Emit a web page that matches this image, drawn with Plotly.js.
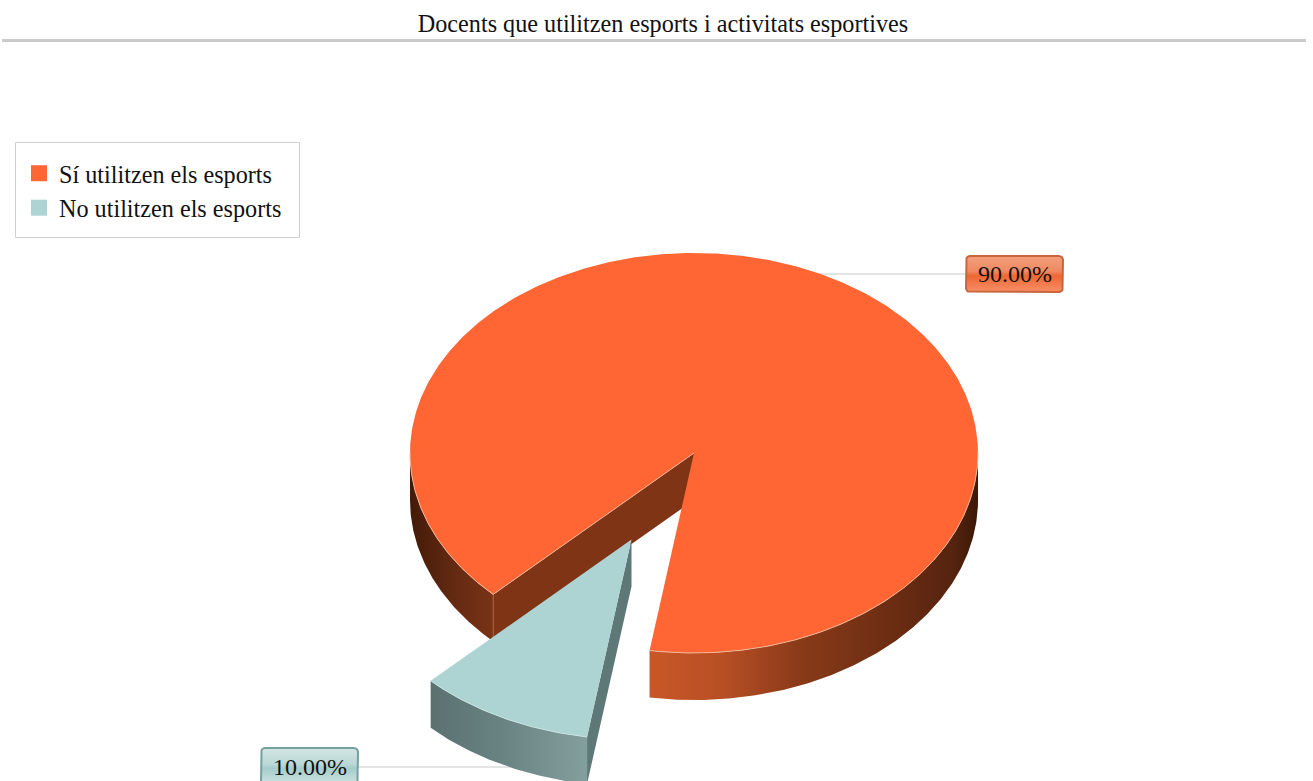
<!DOCTYPE html>
<html>
<head>
<meta charset="utf-8">
<script src="https://cdn.plot.ly/plotly-3.0.1.min.js"></script>
<style>html,body{margin:0;padding:0;background:#fff;overflow:hidden}</style>
</head>
<body>
<div id="chart" style="width:1313px;height:781px"></div>
<script>
// Chart content
const chartTitle = 'Docents que utilitzen esports i activitats esportives';
const categories = ['Sí utilitzen els esports', 'No utilitzen els esports'];
const values = [90, 10];
const valueLabels = ['90.00%', '10.00%'];
const faceColors = ['#ff6633', '#add4d2'];

// Projection of the tilted pie onto the pixel-sized axes
const W = 1313, H = 781;
const centre = {x: 694, y: 453};
const rx = 284, ry = 200, depth = 47;
const firstAngle = 135;          // where the large slice begins, clockwise from east
const explode = 0.485;           // pull-out of the small slice, as a share of the radius
const total = values.reduce((a, b) => a + b, 0);
const sweep = values.map(v => v / total * 360);
const endBig = firstAngle + sweep[0];          // ends past a full turn
const smallFrom = endBig - 360, smallTo = smallFrom + sweep[1];
const smallMid = (smallFrom + smallTo) / 2 * Math.PI / 180;
const smallCentre = {
  x: centre.x + explode * rx * Math.cos(smallMid),
  y: centre.y + explode * ry * Math.sin(smallMid)
};

function arc(c, a, b, dy) {
  const xs = [], ys = [], n = Math.max(2, Math.ceil(Math.abs(b - a) * 2));
  for (let i = 0; i <= n; i++) {
    const t = (a + (b - a) * i / n) * Math.PI / 180;
    xs.push(c.x + rx * Math.cos(t));
    ys.push(c.y + ry * Math.sin(t) + (dy || 0));
  }
  return {xs, ys};
}
function poly(xs, ys, extra) {
  return Object.assign({
    type: 'scatter', mode: 'lines', x: xs, y: ys, fill: 'toself',
    line: {width: 0}, hoverinfo: 'skip', showlegend: false
  }, extra);
}
function stroke(xs, ys, color, width) {
  return {type: 'scatter', mode: 'lines', x: xs, y: ys,
    line: {width: width || 1, color}, hoverinfo: 'skip', showlegend: false};
}
function rimWall(c, a, b, extra) {
  const top = arc(c, a, b, 0), low = arc(c, b, a, depth);
  return poly(top.xs.concat(low.xs), top.ys.concat(low.ys), extra);
}
function radialWall(c, angle, fill) {
  const p = arc(c, angle, angle, 0);
  return poly([c.x, p.xs[0], p.xs[0], c.x], [c.y, p.ys[0], p.ys[0] + depth, c.y + depth],
    {fillcolor: fill});
}
function face(c, a, b, fill) {
  const r = arc(c, a, b, 0);
  return poly([c.x].concat(r.xs, [c.x]), [c.y].concat(r.ys, [c.y]), {fillcolor: fill});
}
function roundedBox(x0, y0, x1, y1, r, stops, edge) {
  const xs = [], ys = [];
  [[x1 - r, y0 + r, -90], [x1 - r, y1 - r, 0], [x0 + r, y1 - r, 90], [x0 + r, y0 + r, 180]].forEach(k => {
    for (let d = 0; d <= 90; d += 15) {
      xs.push(k[0] + r * Math.cos((k[2] + d) * Math.PI / 180));
      ys.push(k[1] + r * Math.sin((k[2] + d) * Math.PI / 180));
    }
  });
  xs.push(xs[0]); ys.push(ys[0]);
  return poly(xs, ys, {
    line: {width: 2, color: edge},
    fillgradient: {type: 'vertical', start: y0, stop: y1, colorscale: stops}
  });
}
function legendKey(i) {
  return {type: 'scatter', mode: 'markers', x: [null], y: [null], name: categories[i],
    marker: {symbol: 'square', size: 16, color: faceColors[i]}, hoverinfo: 'skip', showlegend: true};
}

// Highlights along the edges of the top faces that border a darker wall
const bigRight = arc(centre, 0, smallFrom, 0);
const bigLeft = arc(centre, firstAngle, 180, 0);
const corner = {x: bigLeft.xs[0], y: bigLeft.ys[0]};
const smallRim = arc(smallCentre, smallFrom, smallTo, 0);

const traces = [
  legendKey(0), legendKey(1),
  stroke([820, 966], [274, 274], '#c8c8c8'),
  stroke([358, 510], [767, 767], '#c8c8c8'),
  // large slice: cut wall, then the two visible parts of the rim, then the top
  radialWall(centre, firstAngle, '#7f3416'),
  rimWall(centre, firstAngle, 180, {fillgradient: {type: 'horizontal', start: 410, stop: 493,
    colorscale: [[0, '#431a08'], [0.5, '#622911'], [1, '#7a3316']]}}),
  rimWall(centre, 0, smallFrom, {fillgradient: {type: 'horizontal', start: 650, stop: 978,
    colorscale: [[0, '#c85727'], [0.22, '#b84f24'], [0.45, '#8a3b19'], [0.75, '#6a2c12'], [0.92, '#562410'], [1, '#3c1806']]}}),
  stroke([corner.x, corner.x], [corner.y, corner.y + depth], '#a5603f'),
  face(centre, firstAngle, endBig, faceColors[0]),
  stroke(bigRight.xs, bigRight.ys, '#f6b596'),
  stroke(bigLeft.xs, bigLeft.ys, '#f6b596'),
  stroke([corner.x, centre.x], [corner.y, centre.y], '#f6b596'),
  // small slice, pulled out of the gap
  radialWall(smallCentre, smallFrom, '#5e7877'),
  rimWall(smallCentre, smallFrom, smallTo, {fillgradient: {type: 'horizontal', start: 430, stop: 586,
    colorscale: [[0, '#5a7170'], [0.5, '#6a8584'], [1, '#829e9d']]}}),
  face(smallCentre, smallFrom, smallTo, faceColors[1]),
  stroke(smallRim.xs, smallRim.ys, '#c9e2e0'),
  // value tags
  roundedBox(966, 256, 1063, 292, 4, [[0, '#f29f7d'], [0.42, '#f08a62'], [0.55, '#ee6734'], [1, '#f88f66']], '#c9653d'),
  roundedBox(261, 748, 358, 785, 4, [[0, '#d3e6e4'], [0.42, '#bcd9d7'], [0.55, '#a5cccb'], [1, '#cfe5e3']], '#76a09e')
];

const layout = {
  width: W, height: H,
  margin: {l: 0, r: 0, t: 0, b: 0},
  paper_bgcolor: '#fff', plot_bgcolor: '#fff',
  font: {family: '"Liberation Serif", serif', color: '#111'},
  title: {text: chartTitle, font: {size: 24.2, color: '#111'}, x: 663 / W, xanchor: 'center',
    y: 1 - 24 / H, yanchor: 'middle'},
  xaxis: {range: [0, W], visible: false, fixedrange: true},
  yaxis: {range: [H, 0], visible: false, fixedrange: true},
  showlegend: true,
  legend: {x: 19 / W, y: 1 - 151 / H, xanchor: 'left', yanchor: 'top', bgcolor: 'rgba(0,0,0,0)',
    borderwidth: 0, font: {size: 24.2, color: '#111'},
    traceorder: 'normal', itemclick: false, itemdoubleclick: false},
  shapes: [
    {type: 'line', xref: 'x', yref: 'y', x0: 2, x1: 1306, y0: 40.5, y1: 40.5,
      line: {width: 3, color: '#cacaca'}},
    // frame around the legend
    {type: 'rect', xref: 'x', yref: 'y', x0: 15.5, x1: 299.5, y0: 142.5, y1: 237.5,
      line: {width: 1, color: '#cfcfcf'}, fillcolor: 'rgba(0,0,0,0)'}
  ],
  annotations: [
    {x: 1014.5, y: 274, text: valueLabels[0]},
    {x: 309.5, y: 767, text: valueLabels[1]}
  ].map(a => Object.assign(a, {xref: 'x', yref: 'y', showarrow: false, xanchor: 'center',
    yanchor: 'middle', font: {size: 24, color: '#111'}}))
};

Plotly.newPlot('chart', traces, layout, {displayModeBar: false, staticPlot: true});
</script>
</body>
</html>
